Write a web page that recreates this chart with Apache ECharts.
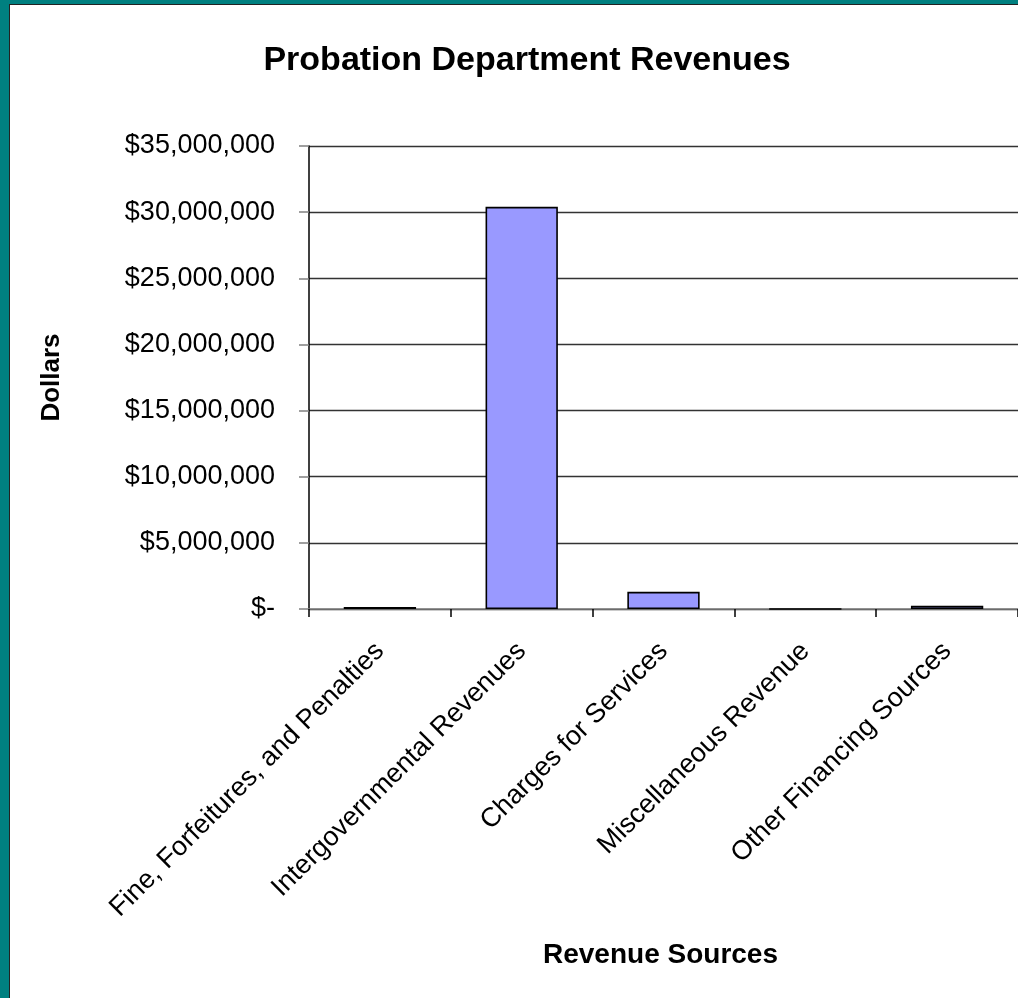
<!DOCTYPE html>
<html><head><meta charset="utf-8">
<script src="https://cdn.jsdelivr.net/npm/echarts@6/dist/echarts.min.js"></script>
<style>
html,body{margin:0;padding:0;width:1018px;height:998px;background:#008080;overflow:hidden;}
#wrap{position:absolute;left:9px;top:4px;width:1009px;height:994px;background:#fff;border-left:1px solid #222;border-top:1px solid #222;box-sizing:border-box;}
#chart{width:100%;height:100%;}
</style></head>
<body><div id="wrap"><div id="chart"></div></div>
<script>
const categories = ["Fine, Forfeitures, and Penalties","Intergovernmental Revenues","Charges for Services","Miscellaneous Revenue","Other Financing Sources"];
const revenues = [160000, 30400000, 1300000, 0, 250000];
const yTicks = [0, 5000000, 10000000, 15000000, 20000000, 25000000, 30000000, 35000000];

const chart = echarts.init(document.getElementById('chart'));
const font = 'Liberation Sans, Arial, sans-serif';
chart.setOption({
  animation:false,
  title:{text:'Probation Department Revenues',left:512,top:34,textAlign:'center',
    textStyle:{fontFamily:font,fontSize:34,fontWeight:'bold',color:'#000'}},
  grid:{left:299,right:0,top:141,bottom:389,containLabel:false},
  xAxis:{type:'category',data:categories,
    name:'Revenue Sources',nameLocation:'middle',nameGap:332,
    nameTextStyle:{fontFamily:font,fontSize:28,fontWeight:'bold',color:'#000',padding:[0,6,0,0]},
    axisLine:{lineStyle:{color:'#808080',width:1.5}},
    axisTick:{show:true,length:8,lineStyle:{color:'#000',width:1.5}},
    axisLabel:{rotate:45,fontFamily:font,fontSize:27,color:'#000',margin:38,interval:0}},
  yAxis:{type:'value',min:yTicks[0],max:yTicks[yTicks.length-1],interval:yTicks[1]-yTicks[0],
    name:'Dollars',nameLocation:'middle',nameGap:244,nameRotate:90,
    nameTextStyle:{fontFamily:font,fontSize:26,fontWeight:'bold',color:'#000'},
    axisLine:{show:true,lineStyle:{color:'#000',width:1.5}},
    axisTick:{show:true,length:10,lineStyle:{color:'#808080',width:1.5}},
    splitLine:{lineStyle:{color:'#333',width:1.3}},
    axisLabel:{fontFamily:font,fontSize:27,color:'#000',margin:34,
      formatter:v=> v===0 ? '$-' : '$'+v.toLocaleString('en-US')}},
  series:[{type:'bar',data:revenues,barWidth:'51%',
    itemStyle:{color:'#9999FF',borderColor:'#000',borderWidth:1.6}}]
});
</script></body></html>
